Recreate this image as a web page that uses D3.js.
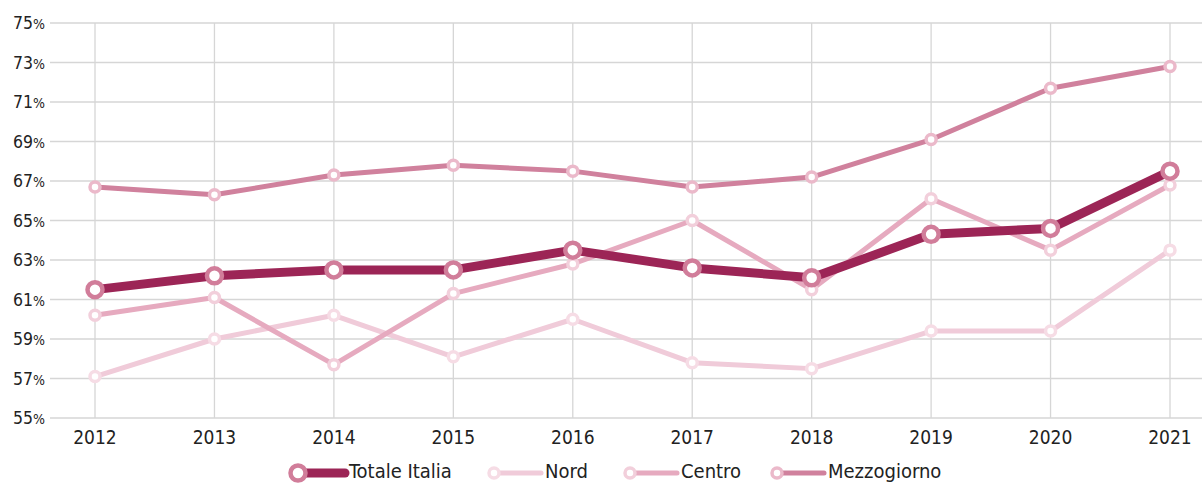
<!DOCTYPE html>
<html><head><meta charset="utf-8">
<script src="https://cdn.jsdelivr.net/npm/d3@7"></script>
<style>body{margin:0;background:#fff}svg{display:block}text{font-family:"DejaVu Sans Condensed","Roboto",sans-serif;fill:#222}</style>
</head><body><svg id="c" width="1202" height="484"></svg>
<script>
const years = ["2012","2013","2014","2015","2016","2017","2018","2019","2020","2021"];
const yTicks = [55,57,59,61,63,65,67,69,71,73,75];
const totaleItalia = [61.5,62.2,62.5,62.5,63.5,62.6,62.1,64.3,64.6,67.5];
const nord = [57.1,59.0,60.2,58.1,60.0,57.8,57.5,59.4,59.4,63.5];
const centro = [60.2,61.1,57.7,61.3,62.8,65.0,61.5,66.1,63.5,66.8];
const mezzogiorno = [66.7,66.3,67.3,67.8,67.5,66.7,67.2,69.1,71.7,72.8];
const seriesNames = ["Totale Italia","Nord","Centro","Mezzogiorno"];

const series = [
  {name:seriesNames[0], values:totaleItalia, line:"#9c2556", mark:"#d17d9a", w:9, r:7.5, sw:4.5},
  {name:seriesNames[1], values:nord, line:"#f0cbd9", mark:"#f6dce5", w:5, r:5, sw:3.5},
  {name:seriesNames[2], values:centro, line:"#e6aabf", mark:"#f2cfdb", w:5, r:5, sw:3.5},
  {name:seriesNames[3], values:mezzogiorno, line:"#d0819d", mark:"#ebb9ca", w:5, r:5, sw:3.5}
];

const svg = d3.select("#c");
const x = d3.scalePoint().domain(years).range([95,1170]);
const y = d3.scaleLinear().domain([55,75]).range([418,23]);

const g = svg.append("g");
g.selectAll(".hg").data(yTicks).join("line")
  .attr("x1",50).attr("x2",1202).attr("y1",d=>y(d)).attr("y2",d=>y(d))
  .attr("stroke","#d6d6d6").attr("stroke-width",1.3);
g.selectAll(".vg").data(years).join("line")
  .attr("x1",d=>x(d)).attr("x2",d=>x(d)).attr("y1",y(75)).attr("y2",y(55))
  .attr("stroke","#d6d6d6").attr("stroke-width",1.3);

const yl = svg.append("g").selectAll("text").data(yTicks).join("text")
  .attr("x",45).attr("y",d=>y(d)+6).attr("text-anchor","end")
  .style("font-size","17.5px");
yl.append("tspan").text(d=>d);
yl.append("tspan").text("%").style("font-size","14px");

svg.append("g").selectAll("text").data(years).join("text")
  .attr("x",d=>x(d)).attr("y",444).attr("text-anchor","middle")
  .style("font-size","19px").text(d=>d);

const order = [1,2,3,0];
const line = d3.line().x((d,i)=>x(years[i])).y(d=>y(d));
order.forEach(k=>{
  const s = series[k];
  svg.append("path").datum(s.values).attr("d",line)
    .attr("fill","none").attr("stroke",s.line).attr("stroke-width",s.w)
    .attr("stroke-linejoin","round");
});
order.forEach(k=>{
  const s = series[k];
  svg.append("g").selectAll("circle").data(s.values).join("circle")
    .attr("cx",(d,i)=>x(years[i])).attr("cy",d=>y(d)).attr("r",s.r)
    .attr("fill","#fff").attr("stroke",s.mark).attr("stroke-width",s.sw);
});

const legX = [298,494,630,777];
const lg = svg.append("g");
series.forEach((s,i)=>{
  const lx = legX[i];
  lg.append("line").attr("x1",lx).attr("x2",lx+47).attr("y1",473).attr("y2",473)
    .attr("stroke",s.line).attr("stroke-width",s.w).attr("stroke-linecap","round");
  lg.append("circle").attr("cx",lx).attr("cy",473).attr("r",s.r)
    .attr("fill","#fff").attr("stroke",s.mark).attr("stroke-width",s.sw);
  lg.append("text").attr("x",lx+51).attr("y",478).style("font-size","20px").text(s.name);
});
</script></body></html>
